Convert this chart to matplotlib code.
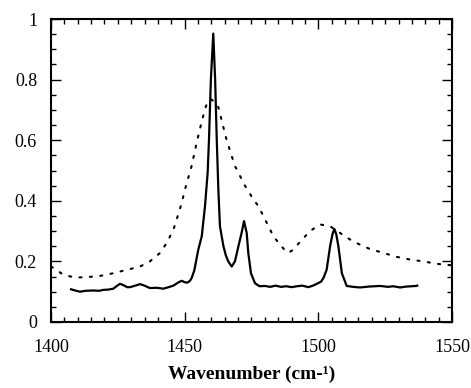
import matplotlib
matplotlib.use("Agg")
import matplotlib.pyplot as plt
from matplotlib.ticker import MultipleLocator

# Solid spectrum
solid_x = [1407.5, 1409.0, 1410.8, 1413.0, 1415.8, 1418.0, 1419.6, 1421.5, 1423.3, 1424.8,
           1425.8, 1427.0, 1428.5, 1429.6, 1431.5, 1433.3, 1435.0, 1437.0, 1439.5, 1442.0,
           1444.0, 1445.8, 1447.5, 1448.9, 1450.1, 1451.0, 1452.0, 1452.6, 1453.6, 1455.1,
           1456.4, 1457.6, 1458.6, 1459.1, 1459.8, 1460.7, 1461.4, 1462.0, 1462.6, 1463.2,
           1464.5, 1465.4, 1466.3, 1467.6, 1468.8, 1470.1, 1471.3, 1472.2, 1473.2, 1473.8,
           1474.8, 1476.3, 1478.0, 1480.0, 1482.0, 1484.0, 1486.0, 1488.0, 1490.0, 1492.0,
           1494.0, 1496.3, 1498.0, 1499.4, 1501.0, 1501.9, 1503.1, 1504.4, 1505.3, 1506.0,
           1506.7, 1507.5, 1508.8, 1510.6, 1513.0, 1515.6, 1519.0, 1523.1, 1526.0, 1528.0,
           1530.6, 1533.0, 1536.6, 1537.0]
solid_y = [0.108, 0.104, 0.100, 0.103, 0.104, 0.103, 0.106, 0.107, 0.110, 0.120,
           0.126, 0.122, 0.115, 0.115, 0.120, 0.125, 0.120, 0.112, 0.113, 0.110,
           0.115, 0.120, 0.130, 0.136, 0.131, 0.130, 0.136, 0.145, 0.170, 0.239,
           0.283, 0.382, 0.493, 0.603, 0.800, 0.952, 0.800, 0.603, 0.437, 0.316,
           0.250, 0.220, 0.200, 0.183, 0.200, 0.250, 0.294, 0.333, 0.294, 0.228,
           0.161, 0.128, 0.118, 0.119, 0.116, 0.120, 0.116, 0.118, 0.115, 0.118,
           0.120, 0.115, 0.120, 0.126, 0.133, 0.145, 0.172, 0.250, 0.290, 0.307,
           0.290, 0.250, 0.161, 0.119, 0.116, 0.114, 0.117, 0.119, 0.116, 0.118,
           0.114, 0.117, 0.119, 0.120]

# Dotted spectrum
dot_x = [1400.0, 1401.0, 1404.6, 1408.3, 1410.0, 1413.3, 1418.3, 1423.3, 1428.3, 1433.3,
         1437.0, 1440.8, 1443.3, 1445.8, 1447.0, 1448.9, 1450.1, 1452.6, 1454.5, 1455.7,
         1457.6, 1458.5, 1459.7, 1461.0, 1462.6, 1465.7, 1468.8, 1472.6, 1475.7, 1477.6,
         1480.1, 1483.2, 1485.7, 1487.5, 1488.8, 1490.5, 1493.2, 1496.9, 1500.6, 1504.4,
         1508.1, 1511.9, 1515.6, 1519.3, 1524.3, 1529.3, 1534.3, 1539.3, 1544.3, 1550.0]
dot_y = [0.183, 0.178, 0.156, 0.148, 0.147, 0.148, 0.152, 0.161, 0.172, 0.183,
         0.200, 0.228, 0.261, 0.305, 0.338, 0.393, 0.437, 0.515, 0.592, 0.637,
         0.703, 0.725, 0.736, 0.728, 0.709, 0.600, 0.515, 0.449, 0.405, 0.382,
         0.338, 0.283, 0.255, 0.237, 0.228, 0.238, 0.265, 0.300, 0.322, 0.316,
         0.294, 0.272, 0.255, 0.241, 0.228, 0.215, 0.206, 0.200, 0.192, 0.187]

x_major = [1400, 1450, 1500, 1550]
x_major_labels = ["1400", "1450", "1500", "1550"]
y_major = [0, 0.2, 0.4, 0.6, 0.8, 1.0]
y_major_labels = ["0", "0.2", "0.4", "0.6", "0.8", "1"]
xlabel = "Wavenumber (cm-¹)"

plt.rcParams['font.family'] = ['Liberation Serif', 'DejaVu Serif']

fig = plt.figure(figsize=(4.71, 3.88), dpi=100)
ax = fig.add_axes([51/471, 1 - 322/388, 401/471, 303/388])

ax.plot(dot_x, dot_y, color='black', lw=1.5, linestyle=(0, (1.0, 4.0)), dash_capstyle='round')
ax.plot(solid_x, solid_y, color='black', lw=1.6, solid_joinstyle='round')

ax.set_xlim(1400, 1550)
ax.set_ylim(0, 1.0)
ax.set_xticks(x_major)
ax.set_xticklabels(x_major_labels)
ax.set_yticks(y_major)
ax.set_yticklabels(y_major_labels)
ax.xaxis.set_minor_locator(MultipleLocator(5))
ax.yaxis.set_minor_locator(MultipleLocator(0.05))

ax.tick_params(which='both', direction='in', top=True, right=True, width=1.0, color='black')
ax.tick_params(which='major', length=7, labelsize=13)
ax.tick_params(axis='x', which='major', pad=12)
ax.tick_params(axis='y', which='major', pad=10)
ax.tick_params(which='minor', length=3.5)
for s in ax.spines.values():
    s.set_linewidth(1.5)

ax.set_xlabel(xlabel, fontsize=14, fontweight='bold', labelpad=7)

fig.savefig("out.png", dpi=100)
